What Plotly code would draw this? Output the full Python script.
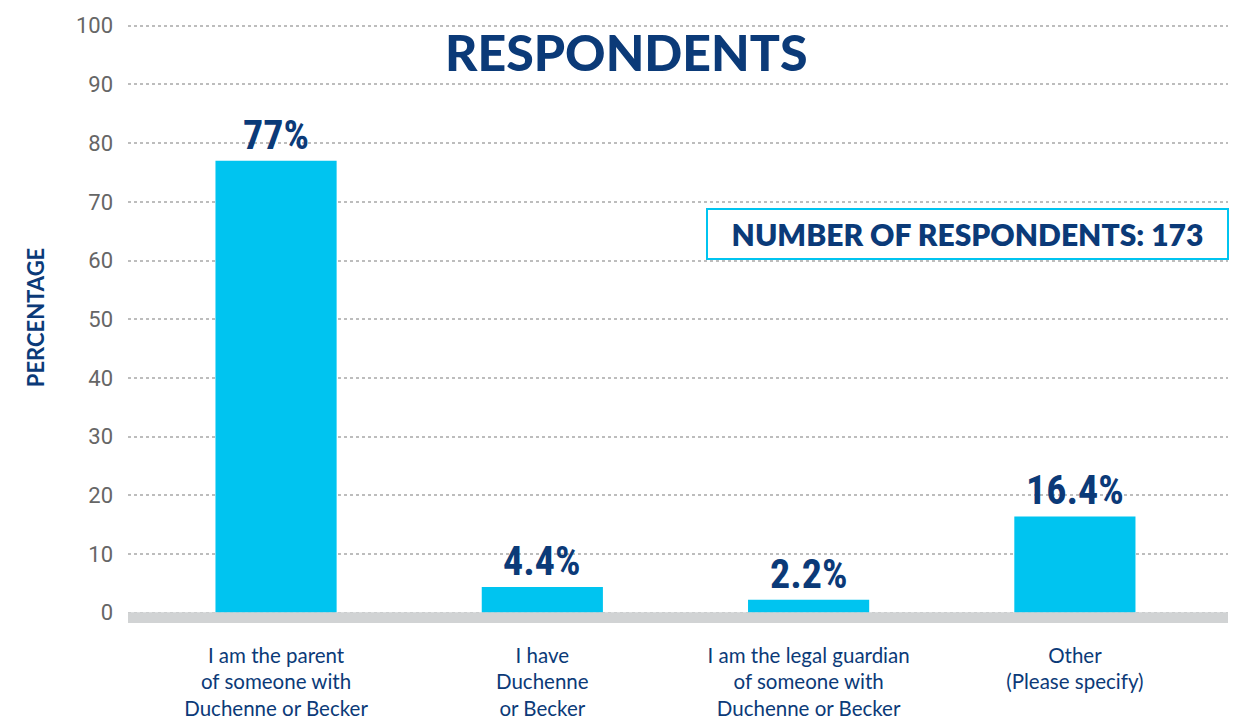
import plotly.graph_objects as go

categories = [
    "I am the parent<br>of someone with<br>Duchenne or Becker",
    "I have<br>Duchenne<br>or Becker",
    "I am the legal guardian<br>of someone with<br>Duchenne or Becker",
    "Other<br>(Please specify)",
]
values = [77, 4.4, 2.2, 16.4]
value_labels = ["77%", "4.4%", "2.2%", "16.4%"]
y_ticks = [0, 10, 20, 30, 40, 50, 60, 70, 80, 90, 100]
title_text = "RESPONDENTS"
respondents_text = "NUMBER OF RESPONDENTS: 173"
y_title = "PERCENTAGE"

DARK = "#0B3A78"
CYAN = "#00C4F0"

fig = go.Figure()
fig.add_trace(go.Bar(
    x=categories, y=values, width=0.455,
    marker=dict(color=CYAN, line=dict(width=0)),
    hoverinfo="skip",
))

for c, v, t in zip(categories, values, value_labels):
    fig.add_annotation(
        x=c, y=v, xref="x", yref="y", text=t, showarrow=False,
        yanchor="bottom", yshift=0,
        font=dict(family="Roboto Condensed, Noto Sans Condensed, Open Sans Condensed, "
                         "DejaVu Sans Condensed, Liberation Sans Narrow, Roboto, sans-serif",
                  size=40, color=DARK, weight="bold"),
    )

# thick grey baseline below zero
fig.add_shape(type="rect", xref="paper", yref="y", x0=0, x1=1, y0=-1.75, y1=0.1,
              fillcolor="#D1D3D4", line=dict(width=0), layer="above")

fig.add_annotation(
    x=0.4525, y=0.953, xref="paper", yref="paper", text=title_text, showarrow=False,
    xanchor="center", yanchor="middle",
    font=dict(family="Lato, sans-serif", size=50, color=DARK, weight=900),
)

fig.add_annotation(
    x=0.7635, y=64.5, xref="paper", yref="y", text=respondents_text, showarrow=False,
    xanchor="center", yanchor="middle", width=519, height=48,
    bordercolor=CYAN, borderwidth=2, borderpad=0, bgcolor="white",
    font=dict(family="Lato, sans-serif", size=30, color=DARK, weight=800),
)

fig.add_annotation(
    x=-0.0845, y=0.509, xref="paper", yref="paper", text=y_title, showarrow=False,
    textangle=-90, xanchor="center", yanchor="middle",
    font=dict(family="Lato, sans-serif", size=22, color=DARK, weight=700),
)

fig.update_layout(
    width=1239, height=722,
    margin=dict(l=128, r=11, t=24, b=99, autoexpand=False),
    paper_bgcolor="white", plot_bgcolor="white",
    showlegend=False,
    bargap=0.5,
    xaxis=dict(
        range=[-0.556, 3.575], showgrid=False, zeroline=False, showline=False,
        ticks="", ticklabelstandoff=18, automargin=False,
        tickfont=dict(family="Lato, sans-serif", size=20.5, color=DARK),
    ),
    yaxis=dict(
        range=[-1.75, 100.3], tickvals=y_ticks, showgrid=True,
        gridcolor="#BDBDBD", griddash="dot", gridwidth=1.5,
        zeroline=False, showline=False, ticks="", ticklabelstandoff=14, automargin=False,
        tickfont=dict(family="Roboto, sans-serif", size=22, color="#666666"),
    ),
)

fig.write_html("out.html")
